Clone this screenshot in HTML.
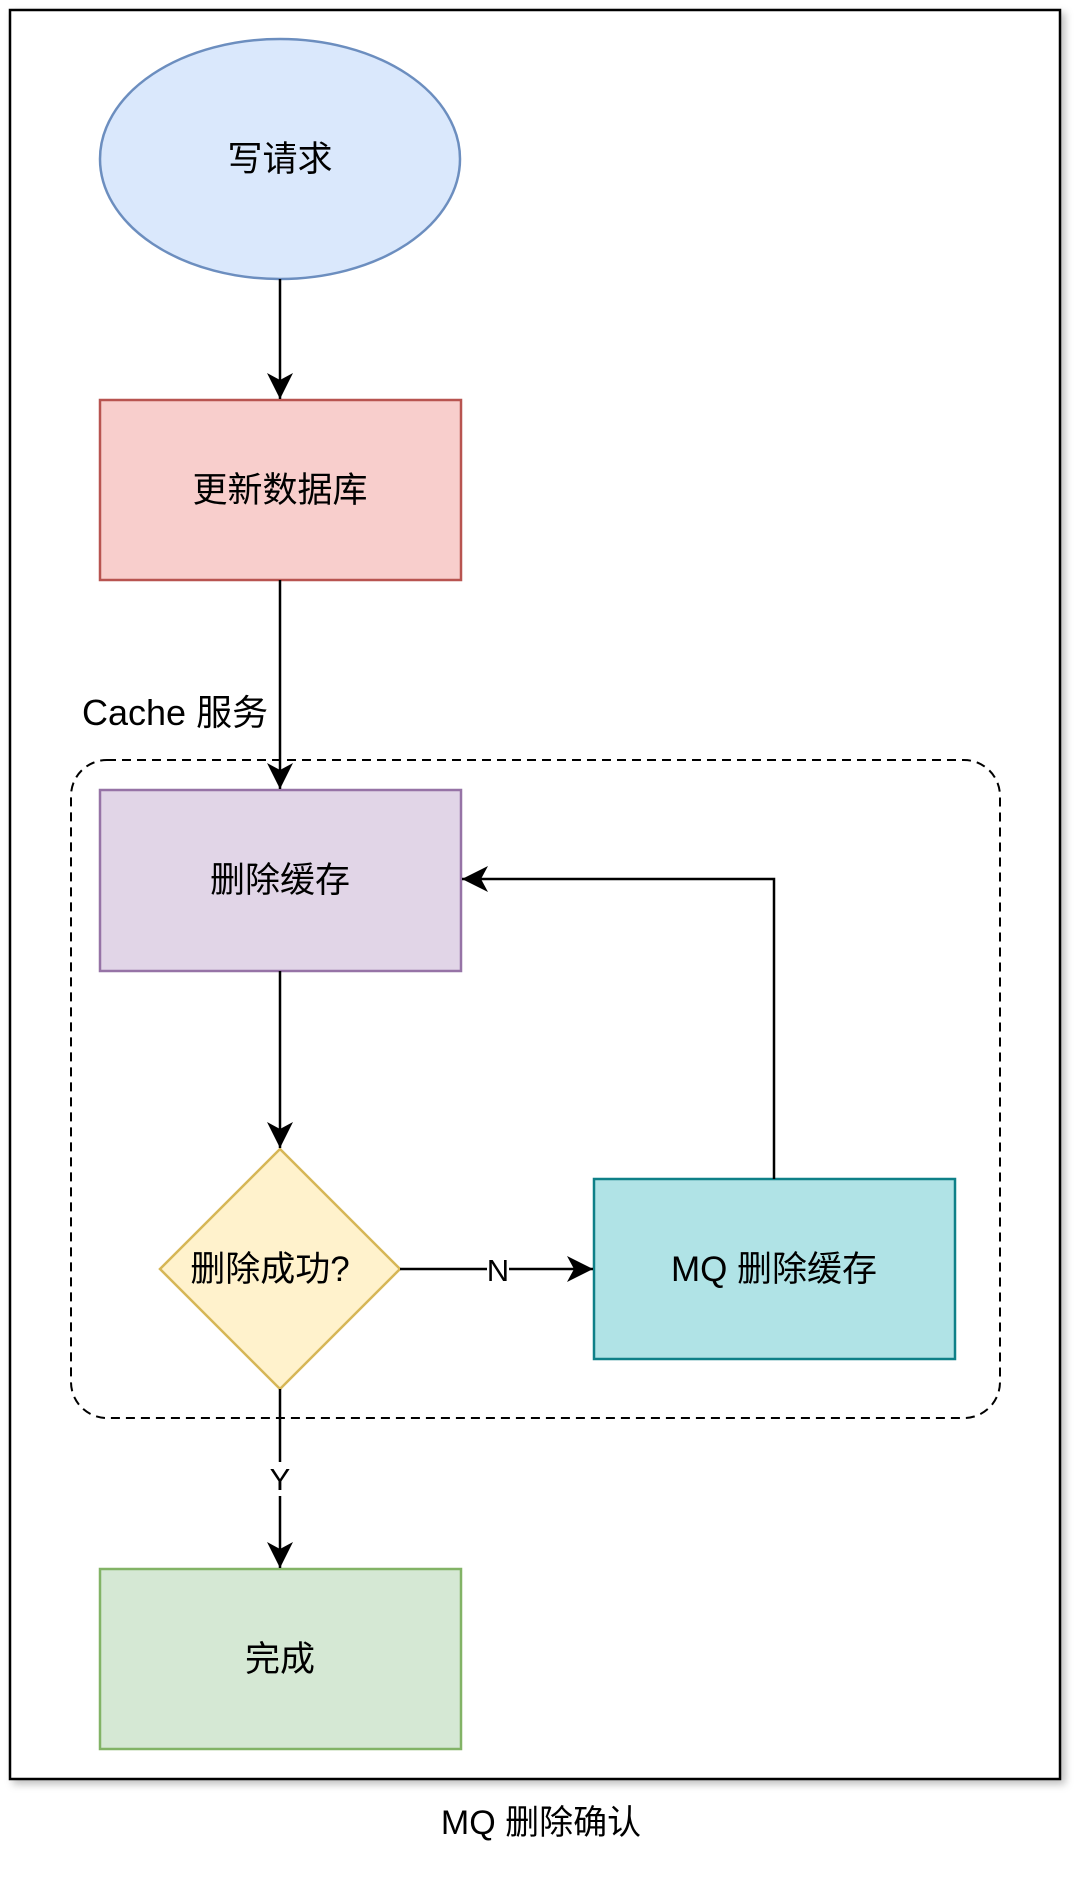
<!DOCTYPE html>
<html><head><meta charset="utf-8"><style>
html,body{margin:0;padding:0;background:#fff;}
svg{display:block;}
text{font-family:"Liberation Sans","Noto Sans CJK SC",sans-serif;font-size:35px;fill:#000;}
</style></head><body>
<svg width="1089" height="1899" viewBox="0 0 1089 1899" xmlns="http://www.w3.org/2000/svg">
<defs>
<filter id="sh" x="-5%" y="-5%" width="110%" height="110%"><feDropShadow dx="4" dy="4" stdDeviation="4" flood-color="#000" flood-opacity="0.25"/></filter>
<marker id="ab" markerWidth="28" markerHeight="28" refX="26" refY="13" orient="auto" markerUnits="userSpaceOnUse"><path d="M0,0 L26,13 L0,26 L7,13 Z" fill="#000"/></marker>
</defs>
<rect x="10" y="10" width="1050" height="1769" fill="#fff" stroke="#000" stroke-width="2.5" filter="url(#sh)"/>
<rect x="71" y="760" width="929" height="658" rx="36" fill="none" stroke="#000" stroke-width="2" stroke-dasharray="9,6"/>
<text x="82" y="725" style="font-size:36px">Cache 服务</text>
<ellipse cx="280" cy="159" rx="180" ry="120" fill="#dae8fc" stroke="#6c8ebf" stroke-width="2.5"/>
<text x="280" y="171" text-anchor="middle">写请求</text>
<rect x="100" y="400" width="361" height="180" fill="#f8cecc" stroke="#b85450" stroke-width="2.5"/>
<text x="280" y="502" text-anchor="middle">更新数据库</text>
<rect x="100" y="790" width="361" height="181" fill="#e1d5e7" stroke="#9673a6" stroke-width="2.5"/>
<text x="280" y="892" text-anchor="middle">删除缓存</text>
<polygon points="280,1149 400,1269 280,1389 160,1269" fill="#fff2cc" stroke="#d6b656" stroke-width="2.5"/>
<text x="270" y="1281" text-anchor="middle">删除成功?</text>
<rect x="594" y="1179" width="361" height="180" fill="#b0e3e6" stroke="#0e8088" stroke-width="2.5"/>
<text x="774" y="1281" text-anchor="middle">MQ 删除缓存</text>
<rect x="100" y="1569" width="361" height="180" fill="#d5e8d4" stroke="#82b366" stroke-width="2.5"/>
<text x="280" y="1671" text-anchor="middle">完成</text>
<line x1="280" y1="279" x2="280" y2="399" stroke="#000" stroke-width="2.5" marker-end="url(#ab)"/>
<line x1="280" y1="580" x2="280" y2="789" stroke="#000" stroke-width="2.5" marker-end="url(#ab)"/>
<line x1="280" y1="971" x2="280" y2="1148" stroke="#000" stroke-width="2.5" marker-end="url(#ab)"/>
<line x1="400" y1="1269" x2="593" y2="1269" stroke="#000" stroke-width="2.5" marker-end="url(#ab)"/>
<rect x="487" y="1255" width="22" height="28" fill="#fff"/>
<text x="498" y="1281" text-anchor="middle" style="font-size:31px">N</text>
<polyline points="774,1179 774,879 462,879" fill="none" stroke="#000" stroke-width="2.5" marker-end="url(#ab)"/>
<line x1="280" y1="1389" x2="280" y2="1568" stroke="#000" stroke-width="2.5" marker-end="url(#ab)"/>
<rect x="266" y="1462" width="28" height="34" fill="#fff"/>
<text x="280" y="1490" text-anchor="middle" style="font-size:31px">Y</text>
<text x="541" y="1834" text-anchor="middle" style="font-size:34px">MQ 删除确认</text>
</svg>
</body></html>
